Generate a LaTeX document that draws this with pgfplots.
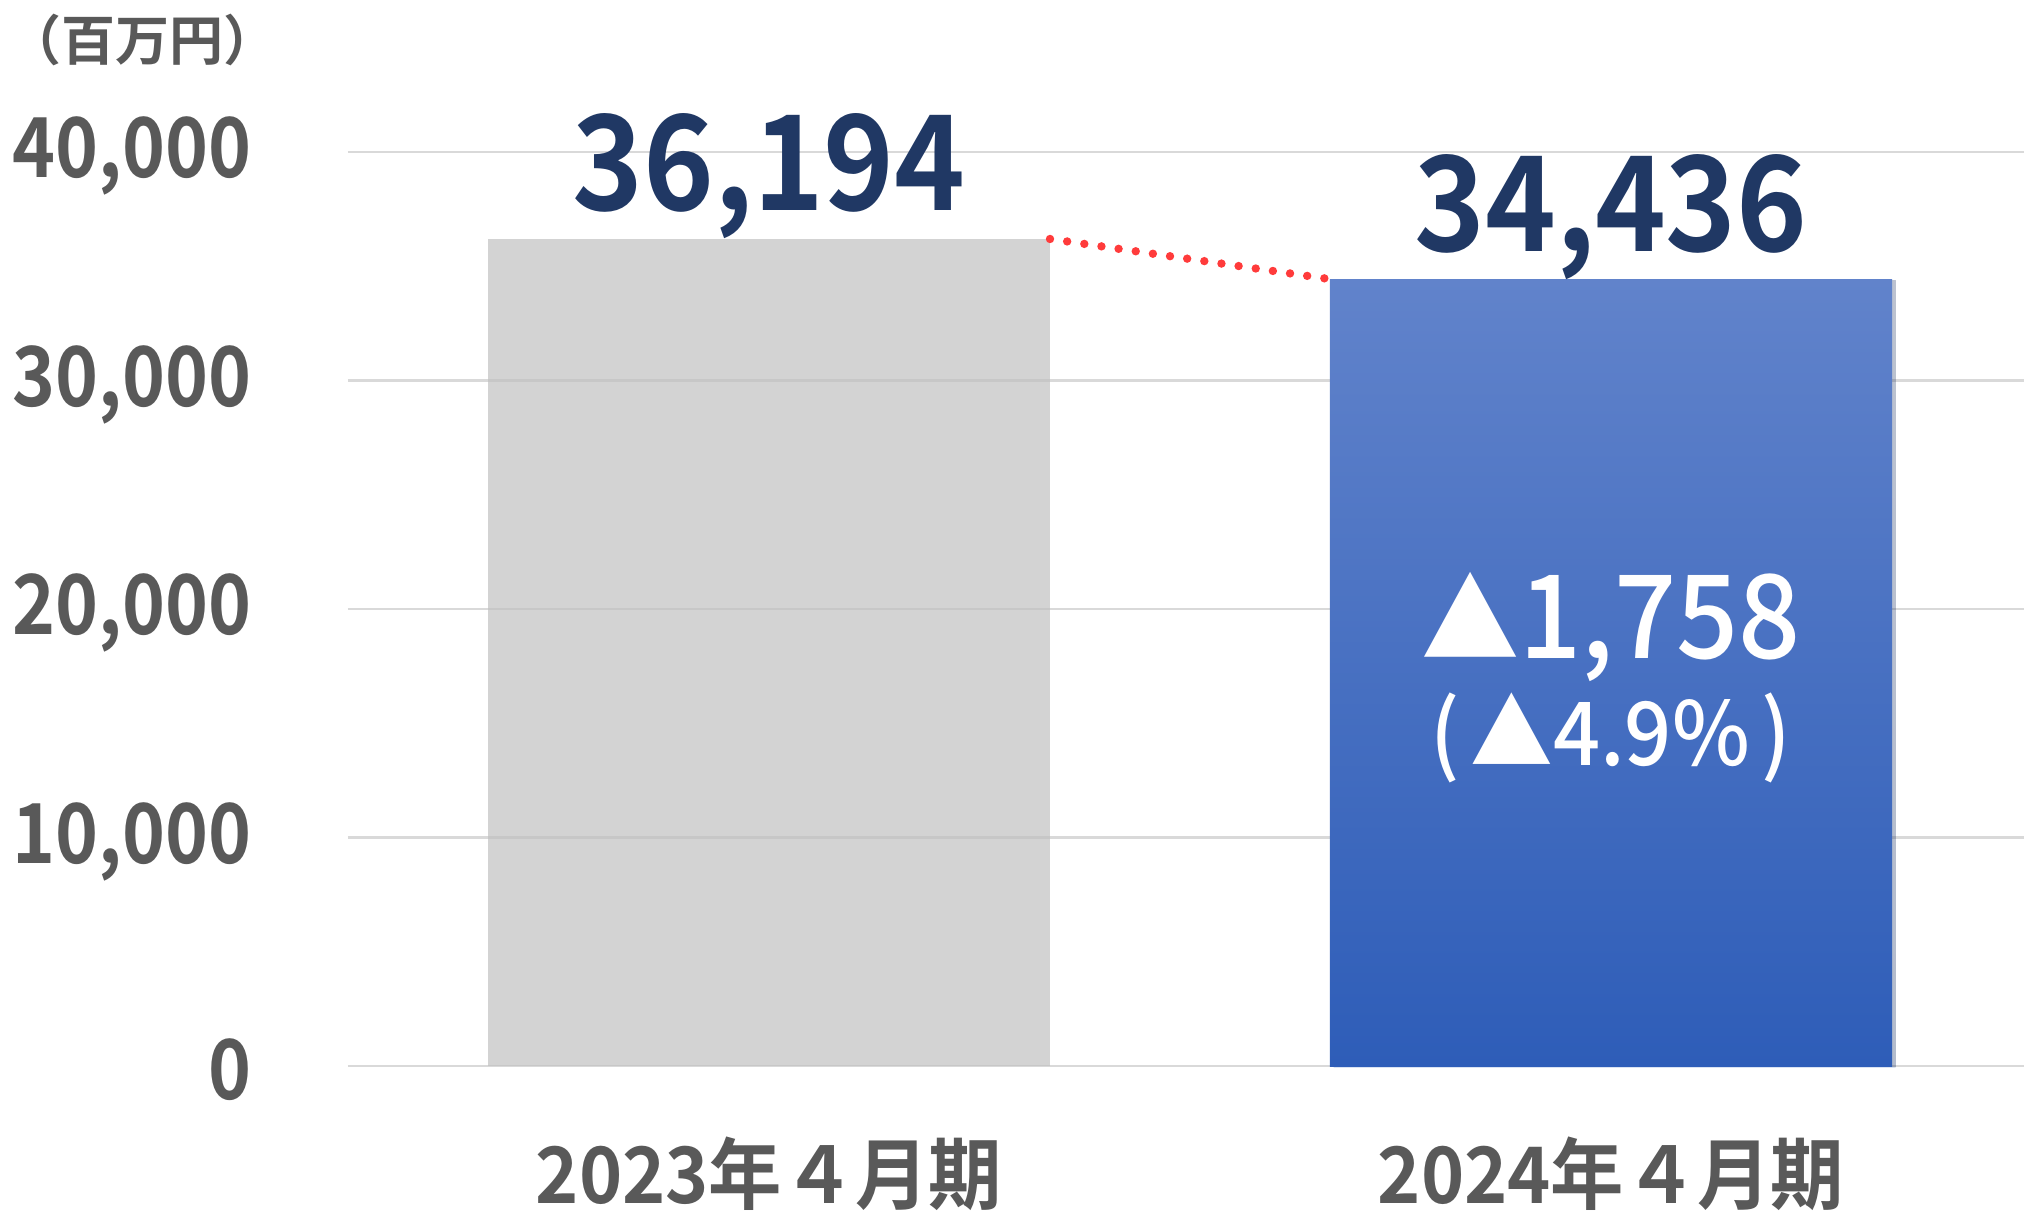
\documentclass[border=0pt]{standalone}
\usepackage{pgfplots}
\pgfplotsset{compat=1.18}
\usetikzlibrary{shadows}
\usepackage{fontspec}
\setmainfont{Noto Sans CJK JP}[BoldFont={Noto Sans CJK JP Bold}]
\newfontfamily\tickfont{Noto Sans CJK JP Bold}[FakeStretch=0.88]
\newfontfamily\valfont{Noto Sans CJK JP Bold}[FakeStretch=0.91]
\newfontfamily\catfont{Noto Sans CJK JP Bold}[FakeStretch=0.94]
\newfontfamily\medfont{Noto Sans CJK JP Medium}[FakeStretch=0.94]
\newfontfamily\unitfont{Noto Sans CJK JP Bold}
\definecolor{ticklab}{HTML}{595959}
\definecolor{navy}{HTML}{203864}
\definecolor{gridc}{HTML}{D9D9D9}
\definecolor{barone}{RGB}{193,193,193}
\definecolor{bartop}{HTML}{6183CB}
\definecolor{barbot}{HTML}{2E5DB8}
\definecolor{dotred}{HTML}{FF3B3B}
\newcommand{\tri}{\scalebox{0.9}{▲}}
\begin{document}
\begin{tikzpicture}
\begin{axis}[
  at={(0,0)}, anchor=south west,
  scale only axis,
  width=421pt, height=228.5pt,
  xmin=-0.5, xmax=1.5,
  ymin=0, ymax=40000,
  clip=false,
  axis line style={draw=none},
  major tick length=0pt,
  tick style={draw=none},
  ytick={0,10000,20000,30000,40000},
  ymajorgrids,
  grid style={color=gridc, line width=0.55pt},
  xtick={0,1},
  xticklabels={2023年４月期,2024年４月期},
  scaled y ticks=false,
  /pgf/number format/1000 sep={,},
  /pgf/number format/assume math mode=true,
  yticklabel style={anchor=east, inner sep=0pt, xshift=-24pt, yshift=-1pt,
    font=\tickfont\fontsize{20.7}{21}\selectfont, text=ticklab},
  xticklabel style={anchor=base, inner sep=0pt, yshift=-34.25pt,
    font=\catfont\fontsize{19.5}{20}\selectfont, text=ticklab},
  ybar,
  bar width=0.6675,
  nodes near coords,
  nodes near coords align={anchor=base},
  nodes near coords style={anchor=base, inner sep=0pt, yshift=7pt,
    font=\valfont\fontsize{33}{33}\selectfont, text=navy},
]
\addplot[bar shift=0pt, draw=none, fill=barone, fill opacity=0.71, text opacity=1]
  coordinates {(0,36194)};
\addplot[bar shift=0pt, draw=none, top color=bartop, bottom color=barbot,
  drop shadow={shadow xshift=0.9pt, shadow yshift=-0.3pt, opacity=0.18, fill=black}]
  coordinates {(1,34436)};
\addplot[sharp plot, nodes near coords={}, color=dotred, line width=2.1pt, line cap=round,
  dash pattern=on 0pt off 4.33pt, mark=none]
  coordinates {(0.33375,36194) (0.66625,34436)};
\node[anchor=base, inner sep=0pt, text=white, font=\medfont\fontsize{29}{29}\selectfont]
  at (axis cs:1,17855) {\tri1,758};
\node[anchor=base, inner sep=0pt, text=white, font=\medfont\fontsize{22}{22}\selectfont]
  at (axis cs:1,13173) {(\kern2.6pt▲4.9\%\kern3pt)};
\node[anchor=center, inner sep=0pt, text=ticklab, font=\unitfont\fontsize{13.5}{14}\selectfont]
  at (rel axis cs:0,0) [xshift=-51.25pt, yshift=256.5pt] {（百万円）};
\end{axis}
\pgfresetboundingbox
\useasboundingbox (-87pt,-36.5pt) rectangle (419pt,266.5pt);
\end{tikzpicture}
\end{document}
